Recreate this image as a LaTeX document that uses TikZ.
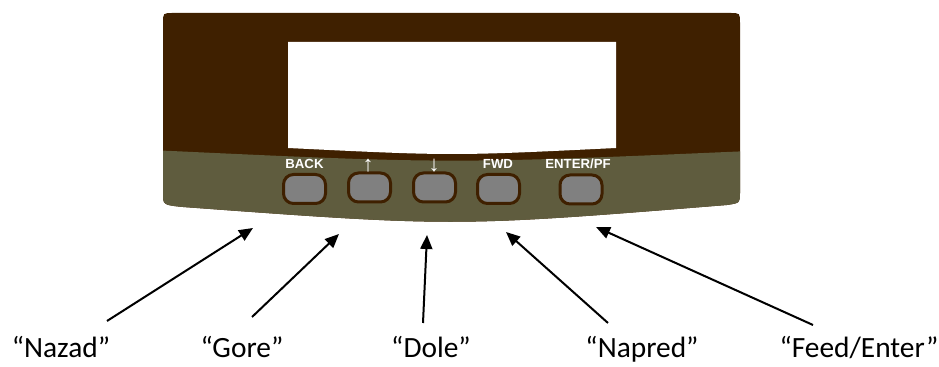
\documentclass[tikz,border=0pt]{standalone}
\usepackage{fontspec}
\setmainfont{Carlito}
\newfontfamily\keyfont{Liberation Sans}
\usetikzlibrary{arrows.meta}

\definecolor{panelbrown}{RGB}{63,32,0}
\definecolor{panelolive}{RGB}{95,92,62}
\definecolor{keygray}{RGB}{128,128,128}

\begin{document}
\begin{tikzpicture}[x=0.5pt,y=-0.5pt,
  key/.style={draw=panelbrown,line width=1.5pt,fill=keygray,rounded corners=5pt,
    minimum width=21pt,minimum height=14.5pt,inner sep=0pt},
  keylabel/.style={text=white,font=\keyfont\bfseries\fontsize{6.6}{7}\selectfont,anchor=base,inner sep=0pt},
  keyarrow/.style={text=white,font=\keyfont\bfseries\fontsize{11}{11}\selectfont,inner sep=0pt},
  callout/.style={font=\fontsize{14.7}{17}\selectfont,anchor=base,inner sep=0pt},
  pointer/.style={line width=1pt,-{Triangle[length=7pt,width=6pt]}}]
  \useasboundingbox (0,0) rectangle (939,367);

  % Panel
  \path[save path=\panelshape] (173,13) -- (730,13) .. controls (740,13) .. (740,23) -- (740,193)
    .. controls (740,203) .. (727,205) .. controls (455,227) .. (183,207)
    .. controls (163,205) .. (163,193) -- (163,23) .. controls (163,13) .. (173,13) -- cycle;
  \fill[panelbrown, use path=\panelshape];
  \begin{scope}
    \clip[use path=\panelshape];
    \fill[panelolive] (150,150) .. controls (450,164) .. (750,151) -- (750,230) -- (150,230) -- cycle;
  \end{scope}

  % Display window
  \fill[white] (288,42) -- (616,42) -- (616,148) .. controls (452,156) .. (288,148) -- cycle;

  % Keys
  \foreach \n/\x/\y in {back/304.5/189, up/369.5/187.5, down/434.5/187.5, fwd/498.5/189, enter/581/189.5}
  {
    \node[key] (key-\n) at (\x,\y) {};
  }

  % Key labels
  \node[keylabel] (lbl-back) at (304.5,169) {BACK};
  \node[keyarrow] (lbl-up) at (368,165.5) {↑};
  \node[keyarrow] (lbl-down) at (434,165.5) {↓};
  \node[keylabel] (lbl-fwd) at (498,169) {FWD};
  \node[keylabel] (lbl-enter) at (578,169) {ENTER/PF};

  % Callouts
  \node[callout] (nazad) at (61,358) {“Nazad”};
  \node[callout] (gore) at (242,358) {“Gore”};
  \node[callout] (dole) at (431,358) {“Dole”};
  \node[callout] (napred) at (642,358) {“Napred”};
  \node[callout] (feed) at (859,358) {“Feed/Enter”};

  \coordinate (nazad-tail) at (107,321);
  \coordinate (gore-tail) at (252,317);
  \coordinate (dole-tail) at (423,323);
  \coordinate (napred-tail) at (608,323);
  \coordinate (feed-tail) at (813,325);

  \coordinate (nazad-tip) at (253,228);
  \coordinate (gore-tip) at (339,234);
  \coordinate (dole-tip) at (427,235);
  \coordinate (napred-tip) at (506,232);
  \coordinate (feed-tip) at (596,227);

  \foreach \n in {nazad,gore,dole,napred,feed}
    \draw[pointer] (\n-tail) -- (\n-tip);
\end{tikzpicture}
\end{document}
